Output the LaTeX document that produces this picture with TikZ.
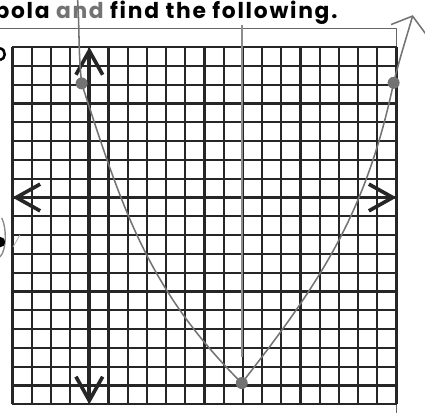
\documentclass[tikz,border=0pt]{standalone}
\usepackage{fontspec}
\newfontfamily\handfont{Poppins}[LetterSpace=8]
\usetikzlibrary{arrows.meta}

\begin{document}
\begin{tikzpicture}[x=0.48cm,y=0.47cm]
  \tikzset{grid line/.style={draw=black!85,line width=1.45pt,step={(1,1)}},
    axis/.style={draw=black!85,line width=2.6pt,{Straight Barb[length=17pt,width=19pt]}-{Straight Barb[length=17pt,width=19pt]}},
    pen/.style={draw=black!55,line width=1.1pt},
    dot/.style={circle,fill=black!55,minimum size=0.3cm,inner sep=0pt},
    title/.style={font=\handfont\bfseries\fontsize{15.5}{18}\selectfont}}

  \clip (-4.651,-11.41) rectangle (17.484,10.505);

  \node[title,anchor=base west,inner sep=0pt] (head) at (-4.95,9.52) {bola {\color{black!55}and} find the following.};

  % frame and grid
  \coordinate (f1) at (-4.7,9);
  \coordinate (f2) at (16,9);
  \coordinate (f3) at (16,-11.5);
  \draw[black!60,line width=0.8pt] (f1) -- (f2) -- (f3);
  \draw[grid line] (-4,-11) grid (16,8);

  % axes
  \coordinate (xl) at (-4,0);
  \coordinate (xr) at (16,0);
  \coordinate (yb) at (0,-11);
  \coordinate (yt) at (0,8);
  \draw[axis] (xl) -- (xr);
  \draw[axis] (yb) -- (yt);

  % axis of symmetry
  \coordinate (s1) at (7.95,9.2);
  \coordinate (s2) at (7.95,-8.5);
  \draw[pen,draw=black!45,line width=1.6pt] (s1) -- (s2);

  % the parabola
  \node[dot] (A) at (-0.4,6.07) {};
  \node[dot] (V) at (7.94,-9.87) {};
  \node[dot] (B) at (15.85,6.1) {};
  \coordinate (p0) at (-0.62,10.7);
  \coordinate (p7) at (16.85,9.7);
  \draw[pen,-{Straight Barb[length=10pt,width=26pt]}] (p0) to[out=-86,in=96] (A.center)
    to[out=-72,in=135] (V.center) to[out=52,in=-102] (B.center) to[out=76,in=-106] (p7);

  % bits cut off at the left
  \draw[line width=1.8pt] (-4.65,7.94) .. controls (-4.3,7.85) and (-4.35,7.35) .. (-4.65,7.31);
  \draw[black!45,line width=1pt] (-4.56,-1.09) .. controls (-4.3,-1.6) and (-4.3,-2.8) .. (-4.65,-3.16);
  \fill (-4.65,-2.37) circle (0.13cm);
  \draw[black!30,line width=0.6pt] (-3.97,-2.63) -- (-3.61,-1.99);
\end{tikzpicture}
\end{document}
